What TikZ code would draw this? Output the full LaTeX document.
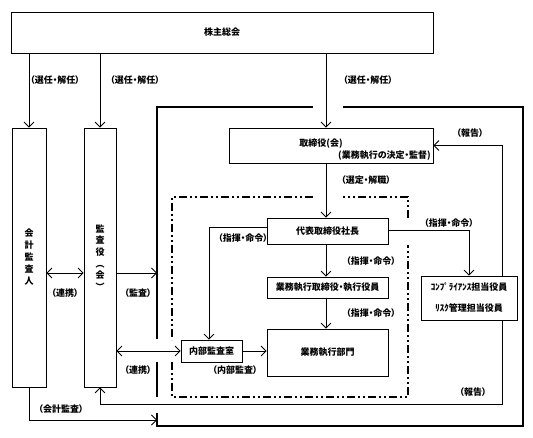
\documentclass[tikz,border=0pt]{standalone}
\usepackage{fontspec}
\setmainfont[RawFeature={+palt}]{Noto Sans CJK JP}
\usetikzlibrary{arrows.meta}

\begin{document}
\begin{tikzpicture}[x=1pt,y=-1pt,
  font=\fontsize{9}{10}\selectfont\bfseries,
  box/.style={draw,line width=0.8pt,inner sep=0pt},
  lbl/.style={inner sep=0pt},
  arr/.style={-{Straight Barb[length=5pt,width=10pt]},line width=0.8pt},
  both/.style={{Straight Barb[length=5pt,width=10pt]}-{Straight Barb[length=5pt,width=10pt]},line width=0.8pt},
  frame/.style={line width=2.2pt},
  dashdot/.style={line width=1.8pt,dash pattern=on 8pt off 3pt on 2pt off 3pt on 2pt off 3pt}]
  \useasboundingbox (0,0) rectangle (533,438);

  % helper lines
  \coordinate (spine) at (326,0);
  \coordinate (rline) at (502,0);
  \coordinate (fl) at (157,0);
  \coordinate (lv1) at (0,273);
  \coordinate (lv2) at (0,404);
  \coordinate (lv3) at (0,420);

  % boxes
  \node[box,minimum width=422pt,minimum height=41pt] (soukai) at (222,32.5) {株主総会};
  \node[box,minimum width=34pt,minimum height=259pt,align=center,
        font=\fontsize{9}{12}\selectfont\bfseries] (kaikei) at (29,257.5) {会\\計\\監\\査\\人};
  \node[box,minimum width=32pt,minimum height=259pt,align=center,
        font=\fontsize{9}{11.6}\selectfont\bfseries] (kansa) at (100,257.5) {監\\査\\役\\︵\\会\\︶};
  \node[box,minimum width=204pt,minimum height=35pt] (torishimari) at (331,145.5) {};
  \node[lbl] (torishimari-t) at (321,144) {取締役(会)};
  \node[lbl,anchor=east] (torishimari-s) at (431,155.5) {(業務執行の決定・監督)};
  \node[box,minimum width=121pt,minimum height=26pt] (daihyo) at (327.5,231) {代表取締役社長};
  \node[box,minimum width=121pt,minimum height=21pt] (gyomu) at (327.5,287.5) {業務執行取締役・執行役員};
  \node[box,minimum width=121pt,minimum height=47pt] (bumon) at (327.5,352.5) {業務執行部門};
  \node[box,minimum width=61pt,minimum height=22pt] (naibu) at (211.5,351) {内部監査室};
  \node[box,minimum width=96pt,minimum height=44pt,align=center,
        font=\fontsize{9}{21}\selectfont\bfseries] (comp) at (469,298) {ｺﾝﾌﾟﾗｲｱﾝｽ担当役員\\ﾘｽｸ管理担当役員};

  % frames
  \draw[frame] (313,107) -- (157,107) -- (157,339);
  \draw[frame] (157,362) -- (157,397);
  \draw[frame] (157,413) -- (157,426) -- (523,426) -- (523,107) -- (343,107);
  \draw[dashdot] (313,197) -- (172,197) -- (172,340);
  \draw[dashdot] (172,362) -- (172,397) -- (408,397) -- (408,245);
  \draw[dashdot] (408,218) -- (408,197) -- (343,197);

  % connectors
  \draw[arr] (soukai.south -| kaikei.north) -- (kaikei.north);
  \draw[arr] (soukai.south -| kansa.north) -- (kansa.north);
  \draw[arr] (soukai.south -| spine) -- (torishimari.north -| spine);
  \draw[both] (kaikei.east |- lv1) -- (kansa.west |- lv1);
  \draw[arr] (kansa.east |- lv1) -- (fl |- lv1);
  \draw[both] (kansa.east |- naibu.west) -- (naibu.west);
  \draw[arr] (kaikei.south) |- (fl |- lv3);
  \draw[arr] (torishimari.south -| spine) -- (daihyo.north -| spine);
  \draw[arr] (daihyo.south -| spine) -- (gyomu.north -| spine);
  \draw[arr] (gyomu.south -| spine) -- (bumon.north -| spine);
  \draw[arr] ([yshift=4pt]daihyo.west) -| ([xshift=-2.5pt]naibu.north);
  \draw[arr] (naibu.east) -- (naibu.east -| bumon.west);
  \draw[arr] ([yshift=1pt]daihyo.east) -| (comp.north);
  \draw[arr] (comp.north -| rline) |- (torishimari.east);
  \draw[arr] (comp.south -| rline) -- (rline |- lv2) -- (kansa.south |- lv2) -- (kansa.south);

  % labels
  \node[lbl] (l-sen1) at (55,80) {（選任・解任）};
  \node[lbl] (l-sen2) at (135,80) {（選任・解任）};
  \node[lbl] (l-sen3) at (368,80) {（選任・解任）};
  \node[lbl] (l-ren1) at (65,293) {（連携）};
  \node[lbl] (l-kansa) at (138,293) {（監査）};
  \node[lbl] (l-ren2) at (138,370) {（連携）};
  \node[lbl] (l-kaikei) at (61,409) {（会計監査）};
  \node[lbl] (l-hou1) at (470,133) {（報告）};
  \node[lbl] (l-hou2) at (473,392) {（報告）};
  \node[lbl] (l-sentei) at (366,180) {（選定・解職）};
  \node[lbl] (l-shiki1) at (243,238) {（指揮・命令）};
  \node[lbl] (l-shiki2) at (449,223) {（指揮・命令）};
  \node[lbl] (l-shiki3) at (371,261) {（指揮・命令）};
  \node[lbl] (l-shiki4) at (371,313) {（指揮・命令）};
  \node[lbl] (l-naibu) at (235,370) {（内部監査）};
\end{tikzpicture}
\end{document}
